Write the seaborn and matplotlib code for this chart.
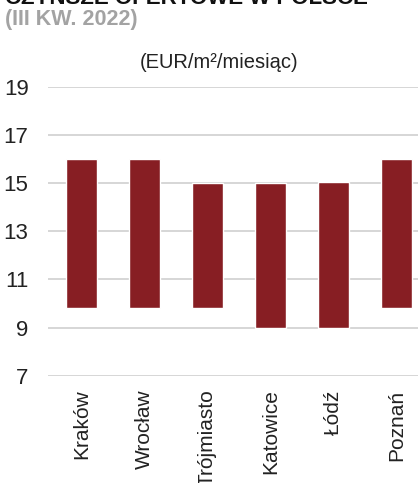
import matplotlib
matplotlib.use("Agg")
import matplotlib.pyplot as plt
import seaborn as sns
import pandas as pd

cities = ["Kraków", "Wrocław", "Trójmiasto", "Katowice", "Łódź", "Poznań"]
low = [9.8, 9.8, 9.8, 9.0, 9.0, 9.8]
high = [16.0, 16.0, 15.0, 15.0, 15.05, 16.0]
yticks = [7, 9, 11, 13, 15, 17, 19]

title = "CZYNSZE OFERTOWE W POLSCE"
subtitle = "(III KW. 2022)"
unit = "(EUR/m²/miesiąc)"

sns.set_theme(style="white")
plt.rcParams["font.family"] = ["Liberation Sans", "DejaVu Sans"]

df = pd.DataFrame({"city": cities, "low": low,
                   "span": [h - l for h, l in zip(high, low)]})

fig = plt.figure(figsize=(4.18, 4.83), dpi=100)
ax = fig.add_axes([48 / 418, 1 - 375.7 / 483, 1 - 48 / 418, (375.7 - 86.7) / 483])

sns.barplot(data=df, x="city", y="span", bottom=df["low"].values,
            color="#871e23", saturation=1, width=0.49, ax=ax, zorder=3)

ax.set_ylim(7, 19)
ax.set_yticks(yticks)
ax.set_xlim(-0.53, 5.34)
ax.yaxis.grid(True, color="#d0d0d0", linewidth=1.2, zorder=0)
ax.set_axisbelow(True)
for s in ax.spines.values():
    s.set_visible(False)
ax.set_xlabel("")
ax.set_ylabel("")
ax.tick_params(axis="y", labelsize=16, pad=14, length=0, colors="#222222")
ax.tick_params(axis="x", labelsize=15, pad=10, length=0, colors="#222222")
for lab in ax.get_xticklabels():
    lab.set_rotation(90)
    lab.set_va("top")

fig.text(0.012, 1 - 3.5 / 483, title, fontsize=16, fontweight="bold",
         color="#111111", va="baseline", ha="left")
fig.text(0.012, 1 - 25.5 / 483, subtitle, fontsize=15.5, fontweight="bold",
         color="#a3a3a3", va="baseline", ha="left")
fig.text(219 / 418, 1 - 68 / 483, unit, fontsize=14.5, color="#222222",
         va="baseline", ha="center")

fig.savefig("out.png", dpi=100)
